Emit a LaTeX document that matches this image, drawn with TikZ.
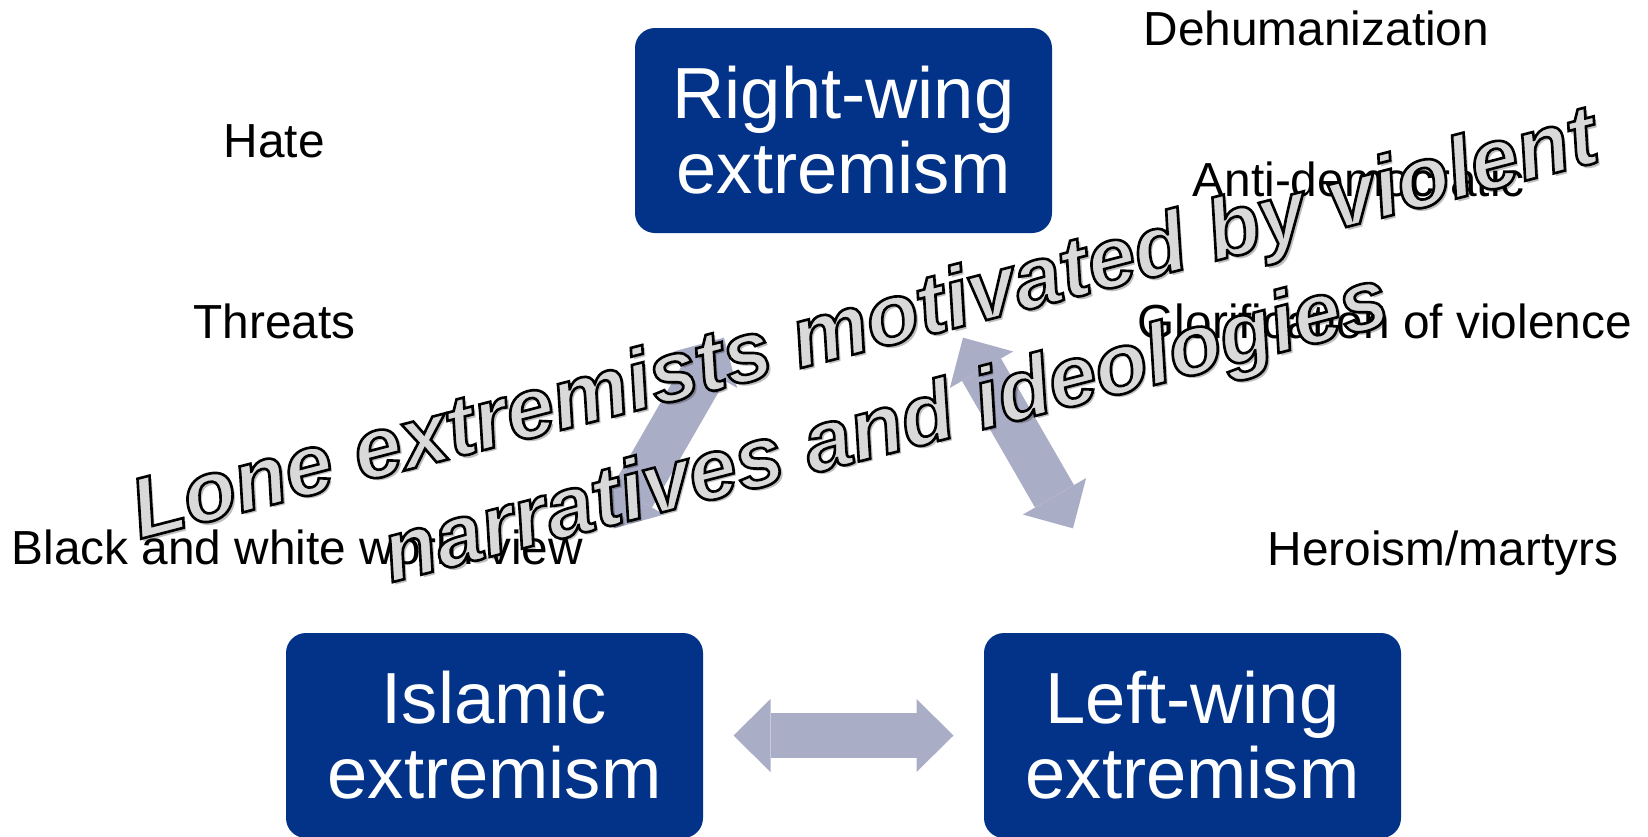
\documentclass[tikz,border=0pt]{standalone}
\usepackage{fontspec}
\setmainfont{Liberation Sans}
\usepackage{tikz}
\usetikzlibrary{positioning}
\usetikzlibrary{calc}
\usetikzlibrary{arrows.meta}
\definecolor{boxblue}{RGB}{3,51,137}
\definecolor{linkgray}{RGB}{170,173,198}
\definecolor{artfill}{RGB}{217,217,217}
% filled glyphs with a black stroke round them
\newcommand{\outlinetext}[1]{\special{pdf:literal direct 2 Tr 0.75 w 0 0 0 RG}#1\special{pdf:literal direct 0 Tr}}
\tikzstyle{ideo} = [rectangle, fill=boxblue, text=white, rounded corners=0.2cm, minimum width=4.17cm, minimum height=2.05cm, inner sep=0pt, align=center, font=\fontsize{20.6}{21.3}\selectfont]
\tikzstyle{trait} = [anchor=base west, inner sep=0pt, font=\fontsize{13.6}{16}\selectfont]
\tikzstyle{link} = [draw=linkgray, line width=0.45cm, {Triangle[length=0.37cm,width=0.73cm,line width=0pt]}-{Triangle[length=0.37cm,width=0.73cm,line width=0pt]}]
\tikzstyle{wordart} = [anchor=base, inner sep=0pt, rotate=14.5, font=\fontsize{24.4}{30}\selectfont\bfseries\itshape]

\begin{document}
\begin{tikzpicture}[node distance = 6.05cm]
            \useasboundingbox (0,0) rectangle (16.48,8.36);
            % Place nodes
            \node [ideo] (right) at (8.435,7.055) {Right-wing\\extremism};
            \node [ideo, below of=right, xshift=-3.49cm] (islam) {Islamic\\extremism};
            \node [ideo, below of=right, xshift=3.49cm] (left) {Left-wing\\extremism};
            % Draw edges
            \path [link] ($(islam)!0.3424!(right)$) -- ($(right)!0.3424!(islam)$);
            \path [link] ($(right)!0.3424!(left)$) -- ($(left)!0.3424!(right)$);
            \path [link] ($(islam)!0.3424!(left)$) -- ($(left)!0.3424!(islam)$);
            % Traits
            \node [trait] (dehum) at (11.43,7.91) {Dehumanization};
            \node [trait] (hate) at (2.23,6.79) {Hate};
            \node [trait] (antidem) at (11.92,6.40) {Anti-democratic};
            \node [trait] (threat) at (1.93,4.98) {Threats};
            \node [trait] (glory) at (11.37,4.98) {Glorification of violence};
            \node [trait] (bw) at (0.11,2.72) {Black and white world view};
            \node [trait] (hero) at (12.67,2.71) {Heroism/martyrs};
            % Title over everything
            \node [wordart, text=black, opacity=0.25] (lones) at (8.74,4.83) {Lone extremists motivated by violent};
            \node [wordart, text=black, opacity=0.25] (narrs) at (8.95,3.80) {narratives and ideologies};
            \node [wordart, text=artfill] (lone) at (8.71,4.86) {\outlinetext{Lone extremists motivated by violent}};
            \node [wordart, text=artfill] (narr) at (8.92,3.83) {\outlinetext{narratives and ideologies}};
          \end{tikzpicture}
\end{document}
